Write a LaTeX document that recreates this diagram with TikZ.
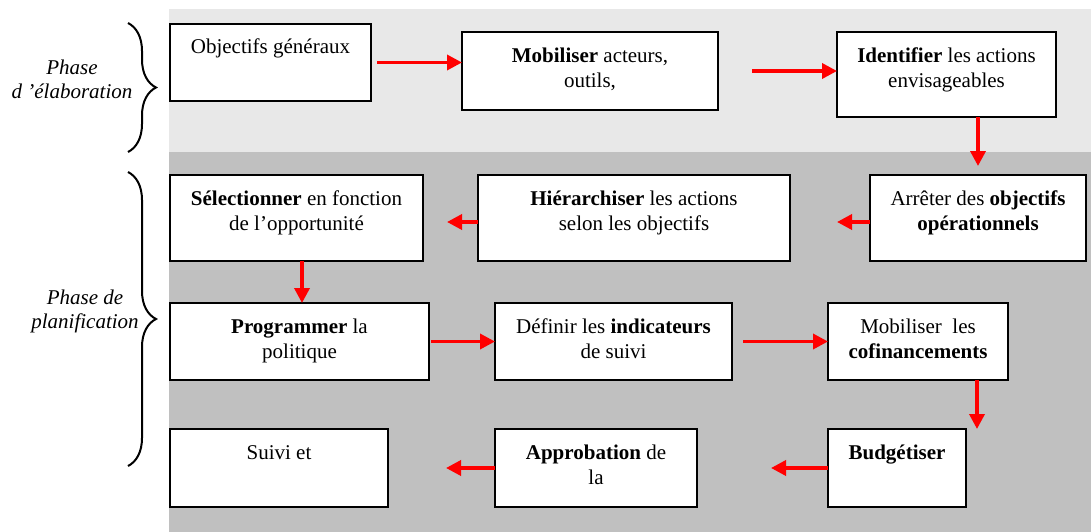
\documentclass[tikz,border=0pt]{standalone}
\usepackage{fontspec}
\setmainfont{Liberation Serif}
\usetikzlibrary{arrows.meta,decorations.pathreplacing}
\definecolor{lightbg}{RGB}{232,232,232}
\definecolor{darkbg}{RGB}{192,192,192}
\begin{document}
\begin{tikzpicture}[x=1pt,y=-1pt,
  box/.style={draw=black, line width=2pt, fill=white, inner sep=0pt, outer sep=0pt},
  txt/.style={align=center, inner sep=0pt, anchor=base, font=\fontsize{21}{25}\selectfont},
  phase/.style={align=center, inner sep=0pt, anchor=base, font=\fontsize{21}{24}\selectfont\itshape},
  arr/.style={draw=red, line width=3.5pt, -{Triangle[length=15pt,width=15pt]}},
  bracestyle/.style={decorate, decoration={brace, amplitude=28pt}, line width=2pt}]
\useasboundingbox (0,0) rectangle (1091,532);
\fill[lightbg] (169,9) rectangle (1091,152);
\fill[darkbg] (169,152) rectangle (1091,532);

% boxes
\node[box, minimum width=201pt, minimum height=77pt] (b1) at (270.5,62.5) {};
\node[box, minimum width=256pt, minimum height=78pt] (b2) at (590,71) {};
\node[box, minimum width=219pt, minimum height=85pt] (b3) at (946.5,74.5) {};
\node[box, minimum width=216pt, minimum height=86pt] (b4) at (978,218) {};
\node[box, minimum width=312pt, minimum height=86pt] (b5) at (634,218) {};
\node[box, minimum width=253pt, minimum height=86pt] (b6) at (296.5,218) {};
\node[box, minimum width=259pt, minimum height=77pt] (b7) at (299.5,341.5) {};
\node[box, minimum width=237pt, minimum height=77pt] (b8) at (613.5,341.5) {};
\node[box, minimum width=180pt, minimum height=77pt] (b9) at (918,341.5) {};
\node[box, minimum width=138pt, minimum height=78pt] (b10) at (897,468) {};
\node[box, minimum width=202pt, minimum height=78pt] (b11) at (596,468) {};
\node[box, minimum width=218pt, minimum height=78pt] (b12) at (279,468) {};

% texts (anchor base = baseline of the last line)
\node[txt] (t1) at ([yshift=-30pt]b1.north) {Objectifs généraux};
\node[txt] (t2) at ([yshift=-56pt]b2.north) {\textbf{Mobiliser} acteurs,\\outils,};
\node[txt] (t3) at ([yshift=-56pt]b3.north) {\textbf{Identifier} les actions\\envisageables};
\node[txt] (t4) at ([yshift=-55pt]b4.north) {Arrêter des \textbf{objectifs}\\\textbf{opérationnels}};
\node[txt] (t5) at ([yshift=-55pt]b5.north) {\textbf{Hiérarchiser} les actions\\selon les objectifs};
\node[txt] (t6) at ([yshift=-55pt]b6.north) {\textbf{Sélectionner} en fonction\\de l’opportunité};
\node[txt] (t7) at ([yshift=-55pt]b7.north) {\textbf{Programmer} la\\politique};
\node[txt] (t8) at ([yshift=-55pt]b8.north) {Définir les \textbf{indicateurs}\\de suivi};
\node[txt] (t9) at ([yshift=-55pt]b9.north) {Mobiliser\ \ les\\\textbf{cofinancements}};
\node[txt] (t10) at ([yshift=-30pt]b10.north) {\textbf{Budgétiser}};
\node[txt] (t11) at ([yshift=-55pt]b11.north) {\textbf{Approbation} de\\la};
\node[txt] (t12) at ([yshift=-30pt]b12.north) {Suivi et};

% arrows
\draw[arr] ([xshift=6pt]b1.east) -- (b1.east -| b2.west);
\draw[arr] ([xshift=34pt]b2.east) -- (b2.east -| b3.west);
\draw[arr] (b3.south -| b4.north) -- ([yshift=9pt]b4.north);
\draw[arr] ([yshift=-4pt]b4.west) -- ++(-33,0);
\draw[arr] ([yshift=-4pt]b5.west) -- ++(-31,0);
\draw[arr] ([xshift=5.5pt]b6.south) -- ([xshift=5.5pt]b6.south |- b7.north);
\draw[arr] ([xshift=2pt]b7.east) -- (b7.east -| b8.west);
\draw[arr] ([xshift=11pt]b8.east) -- (b8.east -| b9.west);
\draw[arr] ([xshift=59pt]b9.south) -- ([xshift=59pt]b9.south |- b10.north);
\draw[arr] (b10.west) -- ++(-57,0);
\draw[arr] (b11.west) -- ++(-49,0);

% braces and phase labels
\draw[bracestyle] (128,23) -- (128,152) coordinate (br1);
\draw[bracestyle] (128,172) -- (128,466) coordinate (br2);
\node[phase] (p1) at (72,99) {Phase\\d ’élaboration};
\node[phase] (p2) at (85,328) {Phase de\\planification};
\end{tikzpicture}
\end{document}
